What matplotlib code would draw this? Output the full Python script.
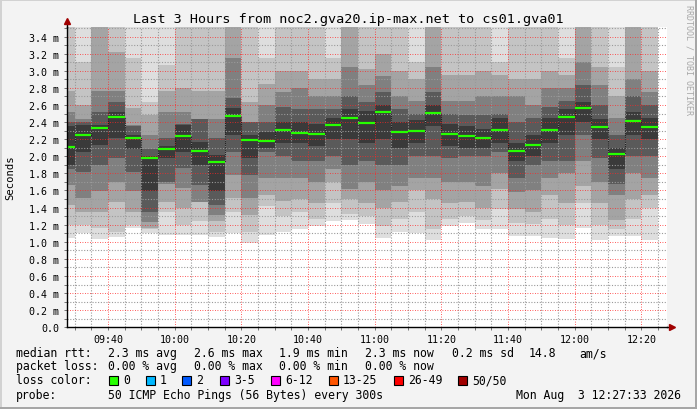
import numpy as np
import matplotlib
matplotlib.use("Agg")
import matplotlib.pyplot as plt
from matplotlib.ticker import MultipleLocator, FuncFormatter
from matplotlib.patches import Rectangle

plt.rcParams["font.family"] = "DejaVu Sans Mono"

# start of every 5 minute step (50 pings each)
steps = ["09:25", "09:30", "09:35", "09:40", "09:45", "09:50", "09:55",
         "10:00", "10:05", "10:10", "10:15", "10:20", "10:25", "10:30",
         "10:35", "10:40", "10:45", "10:50", "10:55", "11:00", "11:05",
         "11:10", "11:15", "11:20", "11:25", "11:30", "11:35", "11:40",
         "11:45", "11:50", "11:55", "12:00", "12:05", "12:10", "12:15",
         "12:20"]

# median rtt in ms
median = [2.112, 2.253, 2.335, 2.463, 2.218, 1.984, 2.089, 2.241, 2.065, 1.937,
          2.475, 2.194, 2.182, 2.311, 2.276, 2.264, 2.370, 2.451, 2.393, 2.522,
          2.288, 2.299, 2.510, 2.264, 2.241, 2.218, 2.311, 2.065, 2.136, 2.311,
          2.463, 2.568, 2.346, 2.030, 2.416, 2.346]

# smoke: lower / upper edge of each grey band (1 = outermost, lightest), ms
lo1 = [1.04, 1.10, 1.03, 1.06, 1.16, 1.10, 1.08, 1.08, 1.08, 1.06, 1.10, 0.99,
       1.08, 1.12, 1.15, 1.18, 1.24, 1.26, 1.21, 1.04, 1.12, 1.10, 1.02, 1.18,
       1.22, 1.15, 1.15, 1.07, 1.07, 1.04, 1.03, 1.16, 1.02, 1.07, 1.07, 1.02]
lo2 = [1.20, 1.20, 1.16, 1.12, 1.20, 1.15, 1.35, 1.20, 1.24, 1.12, 1.35, 1.12,
       1.42, 1.30, 1.35, 1.27, 1.45, 1.33, 1.30, 1.18, 1.27, 1.35, 1.15, 1.27,
       1.30, 1.25, 1.38, 1.22, 1.21, 1.27, 1.20, 1.45, 1.20, 1.15, 1.27, 1.40]
lo3 = [1.43, 1.35, 1.35, 1.47, 1.35, 1.16, 1.47, 1.39, 1.47, 1.24, 1.51, 1.31,
       1.55, 1.48, 1.50, 1.45, 1.70, 1.50, 1.45, 1.40, 1.46, 1.60, 1.50, 1.45,
       1.47, 1.40, 1.62, 1.38, 1.35, 1.55, 1.45, 1.65, 1.45, 1.25, 1.50, 1.55]
lo4 = [1.66, 1.51, 1.59, 1.70, 1.59, 1.23, 1.68, 1.63, 1.47, 1.31, 1.78, 1.51,
       1.75, 1.75, 1.75, 1.70, 1.85, 1.62, 1.70, 1.60, 1.65, 1.75, 1.75, 1.70,
       1.70, 1.65, 1.80, 1.58, 1.60, 1.75, 1.80, 1.95, 1.70, 1.55, 1.80, 1.75]
lo5 = [1.85, 1.82, 1.90, 1.98, 1.82, 1.35, 1.70, 1.86, 1.66, 1.43, 2.05, 1.78,
       2.05, 2.00, 1.95, 1.95, 2.00, 1.90, 1.95, 1.90, 1.90, 2.00, 2.00, 1.98,
       2.00, 2.00, 2.05, 1.75, 1.90, 1.95, 1.95, 2.25, 1.98, 1.68, 2.00, 2.00]
lo6 = [1.90, 2.05, 2.13, 2.21, 2.09, 1.59, 1.98, 2.05, 1.90, 1.59, 2.25, 1.98,
       2.10, 2.15, 2.15, 2.12, 2.20, 2.20, 2.15, 2.20, 2.10, 2.15, 2.35, 2.12,
       2.10, 2.10, 2.15, 1.95, 2.00, 2.15, 2.25, 2.40, 2.20, 1.85, 2.25, 2.20]
hi6 = [2.35, 2.37, 2.37, 2.52, 2.25, 2.00, 2.12, 2.37, 2.17, 2.02, 2.56, 2.25,
       2.28, 2.40, 2.40, 2.38, 2.45, 2.55, 2.53, 2.60, 2.40, 2.42, 2.60, 2.38,
       2.36, 2.32, 2.45, 2.16, 2.25, 2.45, 2.55, 2.63, 2.44, 2.10, 2.52, 2.45]
hi5 = [2.40, 2.40, 2.52, 2.64, 2.35, 2.09, 2.21, 2.38, 2.44, 2.21, 2.68, 2.40,
       2.40, 2.58, 2.55, 2.55, 2.55, 2.70, 2.63, 2.75, 2.55, 2.50, 2.75, 2.50,
       2.48, 2.48, 2.50, 2.40, 2.45, 2.58, 2.65, 2.83, 2.60, 2.25, 2.70, 2.60]
hi4 = [2.52, 2.44, 2.76, 2.76, 2.37, 2.25, 2.52, 2.52, 2.44, 2.44, 3.15, 2.40,
       2.60, 2.75, 2.80, 2.70, 2.70, 3.05, 2.83, 2.94, 2.70, 2.65, 3.05, 2.65,
       2.65, 2.70, 2.70, 2.70, 2.60, 2.80, 2.80, 3.10, 2.83, 2.45, 2.90, 2.75]
hi3 = [2.76, 2.60, 3.70, 3.22, 2.56, 2.48, 2.76, 2.80, 2.76, 2.76, 3.65, 2.64,
       2.85, 3.00, 3.00, 2.90, 2.90, 3.70, 3.02, 3.20, 3.00, 2.90, 3.70, 2.95,
       2.95, 3.00, 2.95, 2.90, 2.90, 3.00, 2.95, 3.70, 3.05, 2.70, 3.70, 3.00]
hi2 = [3.70, 3.10, 4.00, 3.70, 3.15, 2.64, 3.07, 3.70, 3.70, 3.70, 3.95, 3.70,
       3.15, 3.70, 3.70, 3.70, 3.15, 4.00, 3.70, 3.70, 3.70, 3.10, 4.00, 3.70,
       3.70, 3.70, 3.10, 3.70, 3.70, 3.70, 3.15, 4.00, 3.70, 3.05, 4.00, 3.70]
hi1 = [4.00, 3.80, 4.20, 4.00, 3.80, 3.80, 3.80, 4.00, 4.00, 4.00, 4.30, 4.00,
       3.70, 4.00, 4.00, 4.00, 3.70, 4.30, 4.00, 4.00, 4.00, 3.70, 4.30, 4.00,
       4.00, 4.00, 3.70, 4.00, 4.00, 4.00, 3.70, 4.30, 4.00, 3.70, 4.30, 4.00]

shades = ["#dedede", "#c4c4c4", "#a4a4a4", "#808080", "#5a5a5a", "#3a3a3a"]

loss_labels = ["0", "1", "2", "3-5", "6-12", "13-25", "26-49", "50/50"]
loss_colors = ["#26ff00", "#00b8ff", "#0059ff", "#7e00ff", "#ff00ff",
               "#ff5500", "#ff0000", "#a10000"]

x = np.array([int(s[:2]) * 60 + int(s[3:]) for s in steps], dtype=float)
edges = np.append(x, x[-1] + 5)

fig = plt.figure(figsize=(6.97, 4.10), dpi=100, facecolor="#f3f3f3")
ax = fig.add_axes([67 / 697, (410 - 328.3) / 410, 600 / 697, 300.3 / 410])
ax.set_facecolor("white")

lows = [lo1, lo2, lo3, lo4, lo5, lo6]
highs = [hi1, hi2, hi3, hi4, hi5, hi6]
for lo, hi, c in zip(lows, highs, shades):
    lo = np.array(lo)
    ax.bar(x, np.array(hi) - lo, bottom=lo, width=5, align="edge",
           color=c, linewidth=0, zorder=1)

ax.stairs(median, edges, baseline=None, color="#202020", lw=0.8,
          ls=(0, (1, 1)), zorder=3)
ax.hlines(median, x, x + 5, color=loss_colors[0], lw=1.6, zorder=4)

ax.set_xlim(567.7, 747.7)
ax.set_ylim(0, 3.512)

ax.xaxis.set_major_locator(MultipleLocator(20))
ax.xaxis.set_minor_locator(MultipleLocator(5))
ax.yaxis.set_major_locator(MultipleLocator(0.2))
ax.yaxis.set_minor_locator(MultipleLocator(0.1))
ax.xaxis.set_major_formatter(FuncFormatter(
    lambda v, p: "%02d:%02d" % (int(round(v)) // 60, int(round(v)) % 60)))
ax.yaxis.set_major_formatter(FuncFormatter(
    lambda v, p: "0.0" if abs(v) < 1e-9 else "%.1f m" % v))

# rrdtool style grid on top of the smoke: grey minor, red major
grid_kw = dict(ls=(0, (1, 1.5)), zorder=2.5)
for v in ax.xaxis.get_minorticklocs():
    ax.axvline(v, color="#9a9a9a", lw=0.8, **grid_kw)
for v in ax.yaxis.get_minorticklocs():
    ax.axhline(v, color="#9a9a9a", lw=0.8, **grid_kw)
ax.grid(which="major", color=(1, 0.15, 0.15, 0.3), ls=(0, (1, 2)), lw=0.6)
ax.set_axisbelow(False)
ax.tick_params(which="both", direction="out", length=2, width=0.6,
               color="#606060", labelsize=7.2)
ax.tick_params(axis="x", pad=2.5)
ax.tick_params(axis="y", pad=3.5)

for s in ["top", "right"]:
    ax.spines[s].set_visible(False)
for s in ["left", "bottom"]:
    ax.spines[s].set_linewidth(1.0)
    ax.spines[s].set_zorder(5)

# axis arrows
ax.plot([0, 0], [1, 1.012], transform=ax.transAxes, color="black", lw=1,
        clip_on=False)
ax.plot([0], [1.02], marker="^", ms=4.5, color="#a00000", mec="#a00000",
        transform=ax.transAxes, clip_on=False)
ax.plot([1, 1.004], [0, 0], transform=ax.transAxes, color="black", lw=1,
        clip_on=False)
ax.plot([1.009], [0], marker=">", ms=4.5, color="#a00000", mec="#a00000",
        transform=ax.transAxes, clip_on=False)

W, H = 697.0, 410.0
def ft(px, py, s, **kw):
    fig.text(px / W, 1 - py / H, s, **kw)

ft(348, 19, "Last 3 Hours from noc2.gva20.ip-max.net to cs01.gva01",
   ha="center", va="center", fontsize=9.7)
ft(10, 178, "Seconds", rotation=90, ha="center", va="center", fontsize=7.6)
ft(689, 5, "RRDTOOL / TOBI OETIKER", rotation=270, ha="center", va="top",
   fontsize=6, color="#a8a8a8")

fs = 8.3
ft(16, 354, "median rtt:", va="center", fontsize=fs)
for px, s in zip([108, 194, 279, 365, 452, 529, 579],
                 ["2.3 ms avg", "2.6 ms max", "1.9 ms min", "2.3 ms now",
                  "0.2 ms sd", "14.8", "am/s"]):
    ft(px, 354, s, va="center", fontsize=fs)

ft(16, 367, "packet loss:", va="center", fontsize=fs)
for px, s in zip([108, 194, 279, 365],
                 ["0.00 % avg", "0.00 % max", "0.00 % min", "0.00 % now"]):
    ft(px, 367, s, va="center", fontsize=fs)

ft(16, 381, "loss color:", va="center", fontsize=fs)
box_x = [109, 146, 182, 220, 271, 329, 394, 458]
for bx, lab, col in zip(box_x, loss_labels, loss_colors):
    fig.add_artist(Rectangle((bx / W, 1 - 386 / H), 9 / W, 9 / H,
                             transform=fig.transFigure, facecolor=col,
                             edgecolor="black", lw=0.8))
    ft(bx + 14, 381, lab, va="center", fontsize=fs)

ft(16, 396, "probe:", va="center", fontsize=fs)
ft(108, 396, "50 ICMP Echo Pings (56 Bytes) every 300s", va="center", fontsize=fs)
ft(681, 396, "Mon Aug  3 12:27:33 2026", ha="right", va="center", fontsize=fs)

# 3d frame
for (rx, ry, rw, rh, c) in [(0, 0, W, 2, "#d2d2d2"), (0, 0, 2, H, "#d2d2d2"),
                            (0, H - 2, W, 2, "#a6a6a6"), (W - 2, 0, 2, H, "#a6a6a6")]:
    fig.add_artist(Rectangle((rx / W, 1 - (ry + rh) / H), rw / W, rh / H,
                             transform=fig.transFigure, facecolor=c, lw=0))

fig.savefig("out.png", dpi=100, facecolor=fig.get_facecolor())
